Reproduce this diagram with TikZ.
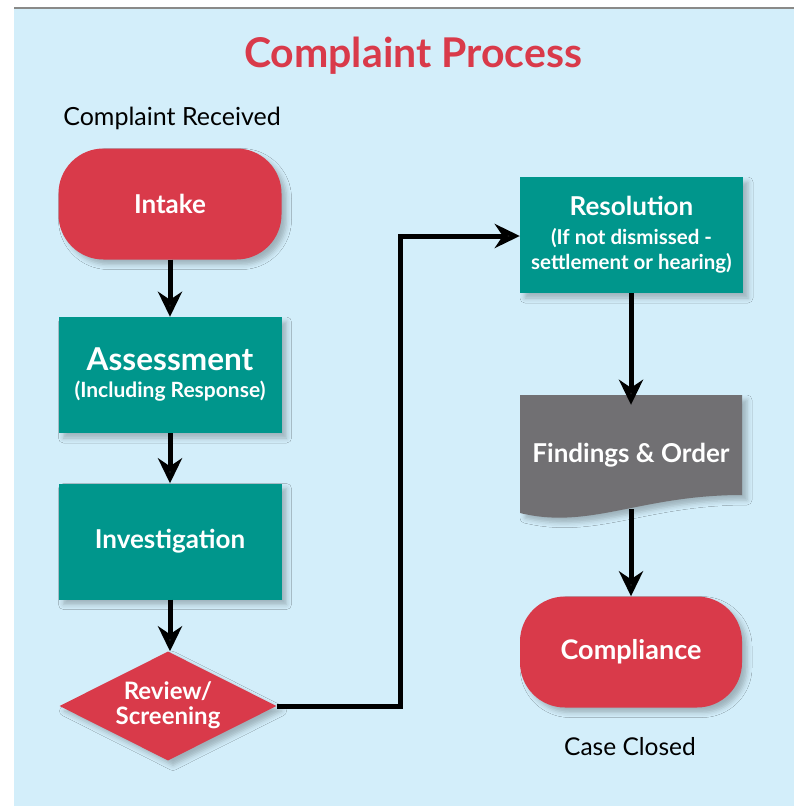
\documentclass[tikz,border=0pt]{standalone}
\usepackage{fontspec}
\setmainfont{Lato}
\usetikzlibrary{arrows.meta,shapes.geometric,shadows.blur}
\definecolor{bgblue}{HTML}{D3EEFA}
\definecolor{cred}{HTML}{D93A4A}
\definecolor{cteal}{HTML}{00968C}
\definecolor{cgray}{HTML}{717073}
\definecolor{topline}{HTML}{8A8A88}
\tikzset{
  shade3/.style={blur shadow={shadow xshift=5pt,shadow yshift=-5pt,shadow opacity=25,shadow blur radius=5pt}},
  boxtxt/.style={text=white,font=\bfseries,align=center,inner sep=0pt},
  tealbox/.style={boxtxt,fill=cteal,minimum width=223pt,minimum height=116pt,shade3},
  redpill/.style={boxtxt,fill=cred,minimum width=223pt,minimum height=111pt,rounded corners=45pt,shade3},
  flow/.style={line width=5pt,-{Stealth[length=25pt,width=24pt,inset=8pt]}},
  plain/.style={font=\fontsize{25}{28}\selectfont,text=black,inner sep=0pt},
  big/.style={font=\fontsize{26}{29}\selectfont\bfseries}
}
\begin{document}
\begin{tikzpicture}[x=1pt,y=-1pt]
\useasboundingbox (0,0) rectangle (794,806);
\fill[bgblue] (14,9) rectangle (794,806);
\draw[topline,line width=2pt] (14,8) -- (794,8);

\node[anchor=base,text=cred,font=\fontsize{41}{46}\selectfont\bfseries,inner sep=0pt] (title) at (413,67) {Complaint Process};
\node[plain,anchor=base] (recv) at (172,125) {Complaint Received};

\node[redpill,big] (intake) at (170,204) {Intake};
\node[tealbox,font=\fontsize{21}{27}\selectfont\bfseries] (assess) at (170,375) {{\fontsize{31.5}{34}\selectfont Assessment}\\{\fontsize{21}{24}\selectfont (Including Response)}};
\node[tealbox,big] (invest) at (170,541.5) {Investigation};
\node[diamond,fill=cred,minimum width=217pt,minimum height=109pt,aspect=2,shade3,inner sep=0pt] (review) at (168,706) {};
\node[boxtxt,font=\fontsize{24}{23}\selectfont\bfseries,anchor=base] (reviewtxt) at (168,699) {Review/};
\node[boxtxt,font=\fontsize{24}{23}\selectfont\bfseries,anchor=base] (screentxt) at (168,724) {Screening};

\node[tealbox,font=\fontsize{20.5}{25}\selectfont\bfseries] (resol) at (631.5,235) {{\fontsize{26}{29}\selectfont Resolution}\\[4pt](If not dismissed -\\settlement or hearing)};

\fill[cgray,shade3] (520,395) -- (742,395) -- (742,495) .. controls (640,495) and (590,530) .. (520,513) -- cycle;
\node[boxtxt,big,minimum width=222pt,minimum height=100pt] (find) at (631,455) {Findings \& Order};
\coordinate (findbot) at (631,509);

\node[redpill,minimum width=222pt,font=\fontsize{27}{30}\selectfont\bfseries] (comp) at (631,652) {Compliance};
\node[plain,anchor=base,font=\fontsize{24.5}{28}\selectfont] (closed) at (630,755) {Case Closed};

\draw[flow] (intake.south) -- (assess.north);
\draw[flow] (assess.south) -- (invest.north);
\draw[flow] (invest.south) -- (invest.south |- review.north);
\draw[flow] (review.east) -- (400,706) -- (400,236) -- (resol.west |- 0,236);
\draw[flow] (resol.south -| findbot) -- (find.north -| findbot);
\draw[flow] (findbot) -- (comp.north -| findbot);
\end{tikzpicture}
\end{document}
